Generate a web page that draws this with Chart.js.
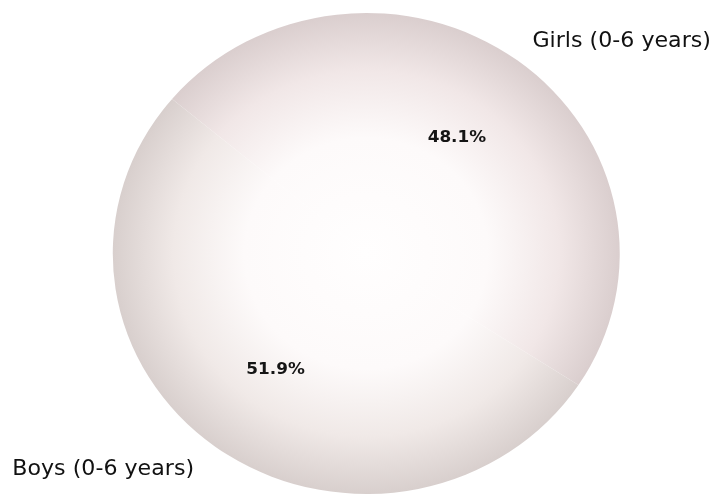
<!DOCTYPE html>
<html>
<head>
<meta charset="utf-8">
<script src="https://cdn.jsdelivr.net/npm/chart.js@4/dist/chart.umd.min.js"></script>
<style>
  html, body { margin: 0; padding: 0; background: #ffffff; }
  canvas { display: block; }
</style>
</head>
<body>
<canvas id="pie" width="724" height="497"></canvas>
<script>
// Child population (0-6 years) by sex
const categories = ['Girls (0-6 years)', 'Boys (0-6 years)'];
const shares = [48.1, 51.9];
const shareLabels = ['48.1%', '51.9%'];

// Slice shading: pale centre fading to a muted rim
const rimColours = ['rgb(218,206,206)', 'rgb(216,207,205)'];
const midColours = ['rgb(241,231,231)', 'rgb(240,233,231)'];

// The figure is drawn slightly wider than tall
const stretchX = 1.054;

const stretchPlugin = {
  id: 'stretchX',
  beforeDraw(chart) {
    chart.ctx.save();
    chart.ctx.transform(stretchX, 0, 0, 1, 0, 0);
  },
  afterDraw(chart) {
    chart.ctx.restore();
  }
};

// distance factors (x, y) for the outer category names
const nameDistance = [[1.1, 1.1], [1.14, 1.12]];

const labelPlugin = {
  id: 'sliceLabels',
  afterDatasetsDraw(chart) {
    const ctx = chart.ctx;
    const meta = chart.getDatasetMeta(0);
    meta.data.forEach((arc, i) => {
      const p = arc.getProps(['x', 'y', 'startAngle', 'endAngle', 'outerRadius'], true);
      const mid = (p.startAngle + p.endAngle) / 2;
      const cx = Math.cos(mid), cy = Math.sin(mid);

      // percentage inside the slice
      ctx.save();
      ctx.font = 'bold 16px "DejaVu Sans"';
      ctx.fillStyle = '#151515';
      ctx.textAlign = 'center';
      ctx.textBaseline = 'middle';
      ctx.fillText(shareLabels[i], p.x + cx * p.outerRadius * 0.6, p.y + cy * p.outerRadius * 0.6);
      ctx.restore();

      // category name just outside the rim
      ctx.save();
      ctx.font = '21px "DejaVu Sans"';
      ctx.fillStyle = '#111111';
      ctx.textAlign = cx > 0 ? 'left' : 'right';
      ctx.textBaseline = 'middle';
      const [kx, ky] = nameDistance[i];
      ctx.fillText(categories[i], p.x + cx * p.outerRadius * kx, p.y + cy * p.outerRadius * ky);
      ctx.restore();
    });
  }
};

function sliceFill(context) {
  const chart = context.chart;
  const area = chart.chartArea;
  const i = context.dataIndex;
  if (!area) return rimColours[i];
  const x = (area.left + area.right) / 2;
  const y = (area.top + area.bottom) / 2;
  const r = Math.min(area.right - area.left, area.bottom - area.top) / 2;
  const g = chart.ctx.createRadialGradient(x, y, 0, x, y, r);
  g.addColorStop(0, '#fffefe');
  g.addColorStop(0.48, '#fdfafa');
  g.addColorStop(0.76, midColours[i]);
  g.addColorStop(1, rimColours[i]);
  return g;
}

new Chart(document.getElementById('pie'), {
  type: 'pie',
  data: {
    labels: categories,
    datasets: [{
      data: shares,
      backgroundColor: sliceFill,
      borderWidth: 0,
      hoverOffset: 0
    }]
  },
  options: {
    responsive: false,
    animation: false,
    rotation: -50,
    events: [],
    layout: { padding: { left: 107, right: 136, top: 13, bottom: 3 } },
    plugins: {
      legend: { display: false },
      tooltip: { enabled: false }
    }
  },
  plugins: [stretchPlugin, labelPlugin]
});
</script>
</body>
</html>
